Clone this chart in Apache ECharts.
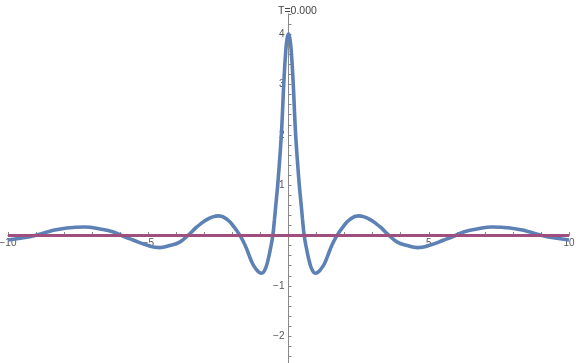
<!DOCTYPE html>
<html><head><meta charset="utf-8">
<script src="https://cdn.jsdelivr.net/npm/echarts@6/dist/echarts.min.js"></script>
<style>html,body{margin:0;padding:0;background:#fff}#c{width:576px;height:363px}</style>
</head><body><div id="c"></div>
<script>
const titleText = 'T=0.000';
const xValues = [
  -10, -9.5, -9.04, -8.5, -7.9, -7.26, -6.72, -6.24, -5.95, -5.54, -5.06, -4.6, -4.24, -3.88, -3.59,
  -3.29, -3.1, -2.93, -2.7, -2.49, -2.17, -1.93, -1.73, -1.62, -1.51, -1.4, -1.28, -1.15, -1.05, -0.95,
  -0.85, -0.75, -0.65, -0.56, -0.5, -0.45, -0.385, -0.32, -0.255, -0.21, -0.17, -0.1, -0.05,
  0,
  0.05, 0.1, 0.17, 0.21, 0.255, 0.32, 0.385, 0.45, 0.5, 0.56, 0.65, 0.75, 0.85,
  0.95, 1.05, 1.15, 1.28, 1.4, 1.51, 1.62, 1.73, 1.93, 2.17, 2.49, 2.7, 2.93, 3.1, 3.29,
  3.59, 3.88, 4.24, 4.6, 5.06, 5.54, 5.95, 6.24, 6.72, 7.26, 7.9, 8.5, 9.04, 9.5, 10
];
const yValues = [
  -0.09, -0.05, 0, 0.085, 0.15, 0.17, 0.13, 0.07, 0, -0.09, -0.19, -0.24, -0.2, -0.13, 0,
  0.16, 0.245, 0.31, 0.37, 0.39, 0.31, 0.16, 0, -0.11, -0.24, -0.4, -0.56, -0.67, -0.73, -0.75,
  -0.69, -0.53, -0.28, 0, 0.32, 0.62, 1.0, 1.47, 2.0, 2.5, 3.0, 3.65, 3.91,
  4.0,
  3.91, 3.65, 3.0, 2.5, 2.0, 1.47, 1.0, 0.62, 0.32, 0, -0.28, -0.53, -0.69,
  -0.75, -0.73, -0.67, -0.56, -0.4, -0.24, -0.11, 0, 0.16, 0.31, 0.39, 0.37, 0.31, 0.245, 0.16,
  0, -0.13, -0.2, -0.24, -0.19, -0.09, 0, 0.07, 0.13, 0.17, 0.15, 0.085, 0, -0.05, -0.09
];
const zeroX = [-10, 10];
const zeroY = [0, 0];
const xTickLabels = [-10, -5, 5, 10];
const yTickLabels = [-2, -1, 1, 2, 3, 4];

const fmt = v => (v < 0 ? '\u2212' : '') + Math.abs(Math.round(v));
const font = '"Liberation Sans", Arial, sans-serif';
const G = {left: 8, top: 14, width: 561, height: 352.4};
const xMin = -10, xMax = 10, yMin = -2.6, yMax = 4.4;
const xAxisOffset = -(G.height * (0 - yMin) / (yMax - yMin));
const yAxisOffset = -(G.width * (0 - xMin) / (xMax - xMin));
const chart = echarts.init(document.getElementById('c'), null, {renderer: 'canvas'});
chart.setOption({
  animation: false,
  backgroundColor: '#fff',
  title: {
    text: titleText, left: 273, top: 1,
    textStyle: {fontFamily: font, fontSize: 10.5, fontWeight: 'normal', color: '#444'}
  },
  grid: Object.assign({containLabel: false, outerBoundsMode: 'none'}, G),
  xAxis: {
    type: 'value', min: xMin, max: xMax, interval: 1, position: 'bottom',
    offset: xAxisOffset,
    axisLine: {onZero: false, lineStyle: {color: '#888', width: 1}},
    axisTick: {show: true, inside: true, length: 3.5, lineStyle: {color: '#888'}},
    axisLabel: {customValues: xTickLabels, formatter: fmt, margin: 3,
      fontFamily: font, fontSize: 10, color: '#555'},
    splitLine: {show: false}
  },
  yAxis: {
    type: 'value', min: yMin, max: yMax, interval: 0.2, position: 'left',
    offset: yAxisOffset,
    axisLine: {onZero: false, lineStyle: {color: '#888', width: 1}},
    axisTick: {show: true, inside: true, length: 3, lineStyle: {color: '#888'}},
    axisLabel: {customValues: yTickLabels, formatter: fmt, margin: 4,
      fontFamily: font, fontSize: 10, color: '#555'},
    splitLine: {show: false}
  },
  series: [
    {
      type: 'line', data: xValues.map((x, i) => [x, yValues[i]]),
      showSymbol: false, smooth: 0.5, clip: false,
      lineStyle: {color: '#5E81B5', width: 3.6},
      z: 2
    },
    {
      type: 'line', data: zeroX.map((x, i) => [x, zeroY[i]]),
      showSymbol: false,
      lineStyle: {color: '#9f4f7f', width: 3},
      z: 3
    }
  ]
});
</script>
</body></html>
